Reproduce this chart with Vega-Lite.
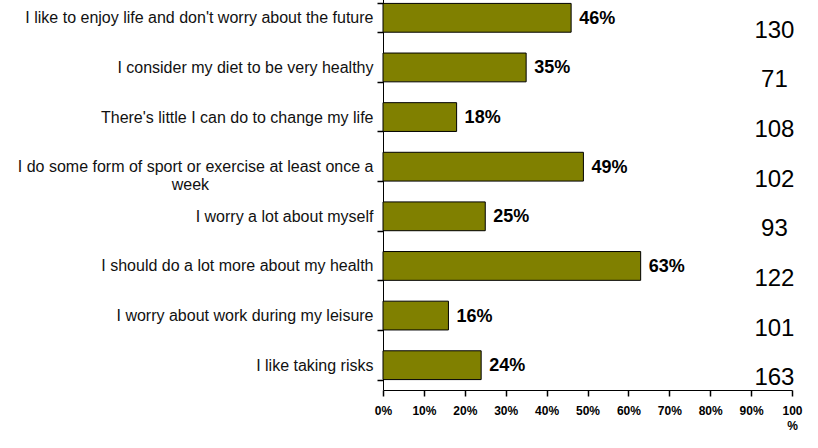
{
  "$schema": "https://vega.github.io/schema/vega-lite/v6.json",
  "width": 409,
  "height": 397,
  "autosize": {"type": "none"},
  "padding": {"left": 383, "top": -7, "right": 26, "bottom": 58},
  "background": "white",
  "config": {"view": {"stroke": null}, "font": "Liberation Sans"},
  "data": {"values": [
    {"statement": "I like to enjoy life and don't worry about the future", "share": 0.46, "n": 130},
    {"statement": "I consider my diet to be very healthy", "share": 0.35, "n": 71},
    {"statement": "There's little I can do to change my life", "share": 0.18, "n": 108},
    {"statement": "I do some form of sport or exercise at least once a week", "share": 0.49, "n": 102},
    {"statement": "I worry a lot about myself", "share": 0.25, "n": 93},
    {"statement": "I should do a lot more about my health", "share": 0.63, "n": 122},
    {"statement": "I worry about work during my leisure", "share": 0.16, "n": 101},
    {"statement": "I like taking risks", "share": 0.24, "n": 163}
  ]},
  "encoding": {
    "y": {
      "field": "statement", "type": "nominal", "sort": null, "title": null,
      "scale": {"paddingInner": 0.42, "paddingOuter": 0.21},
      "axis": {
        "ticks": true, "tickBand": "extent",
        "domainColor": "#000", "tickColor": "#000", "tickSize": 6, "domainWidth": 1, "tickWidth": 1.5, "tickOpacity": 1,
        "labelFont": "Liberation Sans", "labelFontSize": 16, "labelColor": "#111",
        "labelPadding": 4, "labelLimit": 400, "labelLineHeight": 18,
        "labelExpr": "datum.label == 'I do some form of sport or exercise at least once a week' ? ['I do some form of sport or exercise at least once a', 'week\u00a0\u00a0\u00a0\u00a0\u00a0\u00a0\u00a0\u00a0\u00a0\u00a0\u00a0\u00a0\u00a0\u00a0\u00a0\u00a0\u00a0\u00a0\u00a0\u00a0\u00a0\u00a0\u00a0\u00a0\u00a0\u00a0\u00a0\u00a0\u00a0\u00a0\u00a0\u00a0\u00a0\u00a0\u00a0\u00a0\u00a0\u200d'] : datum.label"
      }
    }
  },
  "layer": [
    {
      "mark": {"type": "bar", "fill": "#808000", "stroke": "#000", "strokeWidth": 1},
      "encoding": {
        "x": {
          "field": "share", "type": "quantitative", "title": null,
          "scale": {"domain": [0, 1], "nice": false},
          "axis": {
            "values": [0, 0.1, 0.2, 0.3, 0.4, 0.5, 0.6, 0.7, 0.8, 0.9, 1],
            "format": ".0%", "grid": false, "ticks": true,
            "domainColor": "#000", "tickColor": "#000", "tickSize": 6, "tickWidth": 1.5,
            "labelFont": "Liberation Sans", "labelFontSize": 12, "labelFontWeight": "bold", "labelColor": "#000",
            "labelPadding": 9, "labelLineHeight": 15, "labelFlush": false,
            "labelExpr": "datum.value == 1 ? ['100', '%'] : datum.label"
          }
        }
      }
    },
    {
      "mark": {"type": "text", "align": "left", "baseline": "middle", "dx": 8, "dy": 1, "fontSize": 18, "fontWeight": "bold", "font": "Liberation Sans", "color": "#000"},
      "encoding": {
        "x": {"field": "share", "type": "quantitative"},
        "text": {"field": "share", "type": "quantitative", "format": ".0%"}
      }
    },
    {
      "mark": {"type": "text", "align": "center", "baseline": "middle", "dy": 13, "fontSize": 24, "font": "Liberation Sans", "color": "#000"},
      "encoding": {
        "x": {"datum": 0.957, "type": "quantitative"},
        "text": {"field": "n", "type": "quantitative"}
      }
    }
  ]
}
